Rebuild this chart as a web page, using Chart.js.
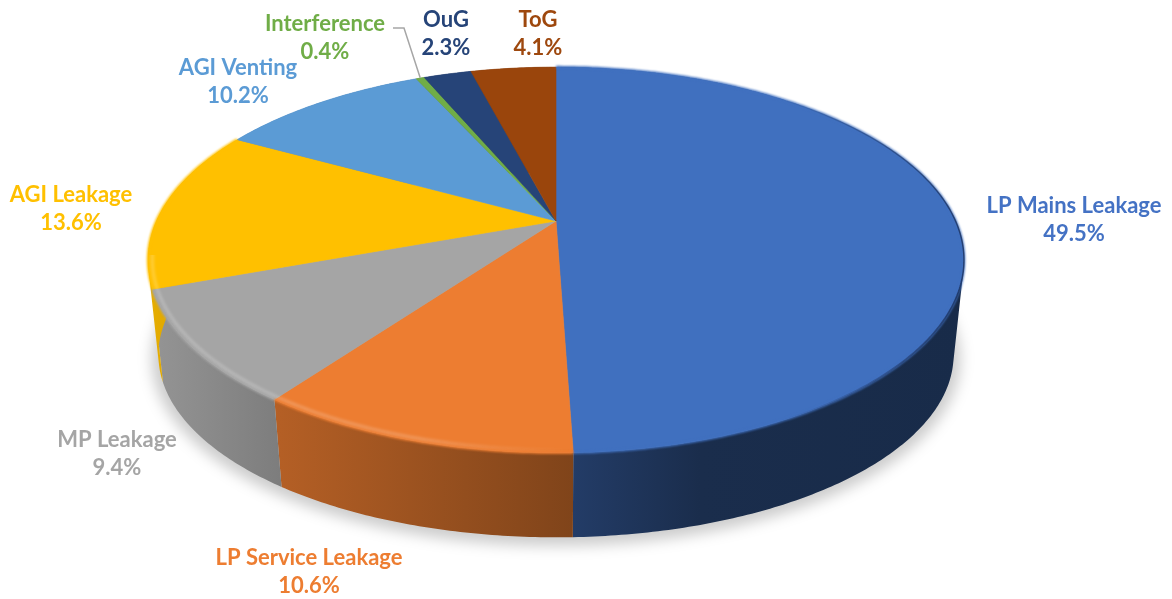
<!DOCTYPE html>
<html>
<head>
<meta charset="utf-8">
<style>
  body { margin: 0; background: #fff; }
</style>
</head>
<body>
<canvas id="leakChart" width="1172" height="599"></canvas>
<script src="https://cdn.jsdelivr.net/npm/chart.js@4"></script>
<script>
const categories = ['LP Mains Leakage', 'LP Service Leakage', 'MP Leakage', 'AGI Leakage', 'AGI Venting', 'Interference', 'OuG', 'ToG'];
const shares = [49.5, 10.6, 9.4, 13.6, 10.2, 0.4, 2.3, 4.1];
const sliceColors = ['#4070BF', '#ED7D31', '#A5A5A5', '#FFC000', '#5B9BD5', '#70AD47', '#264478', '#9A450C'];
const labelColors = ['#4472C4', '#ED7D31', '#A5A5A5', '#FFC000', '#5B9BD5', '#70AD47', '#264478', '#9E480E'];

// where each two line label is centred
const labelSpots = [[1074, 206], [309, 558], [117, 440], [71, 195], [238, 68], [325, 24], [446, 20], [538, 20]];

// flat disc -> tilted disc with a bit of perspective
const TILT = 0.202;
const TOP = { sx: 1.808, sy: 0.837, dy: 0 };
const BOTTOM = { sx: 1.762, sy: 0.792, dy: 97 };

function project(arc, disc, angle, rho) {
  const u = Math.cos(angle) * rho;
  const v = Math.sin(angle) * rho;
  const w = 1 / (1 - TILT * v);
  return [
    arc.x + arc.outerRadius * disc.sx * u * w,
    arc.y + disc.dy + arc.outerRadius * disc.sy * v * w
  ];
}

function arcPoints(arc, disc, rho) {
  const pts = [];
  const n = Math.max(2, Math.ceil((arc.endAngle - arc.startAngle) * 90));
  for (let i = 0; i <= n; i++) {
    pts.push(project(arc, disc, arc.startAngle + (arc.endAngle - arc.startAngle) * i / n, rho));
  }
  return pts;
}

function tracePoints(ctx, pts) {
  pts.forEach((p, i) => (i ? ctx.lineTo(p[0], p[1]) : ctx.moveTo(p[0], p[1])));
}

function shade(hex, f) {
  const n = parseInt(hex.slice(1), 16);
  return `rgb(${(n >> 16) * f},${((n >> 8) & 255) * f},${(n & 255) * f})`;
}

// the side gets darker going right, then stays flat
const wallStops = [[150, 0.9], [280, 0.76], [573, 0.54], [700, 0.4], [965, 0.38]];

function wallGradient(ctx, color) {
  const g = ctx.createLinearGradient(0, 0, 1172, 0);
  wallStops.forEach(s => g.addColorStop(s[0] / 1172, shade(color, s[1])));
  return g;
}

// the rims cross near the widest point, so the wall is built from small quads
// all wound the same way, otherwise the corner gets cut out of the fill
function traceWall(ctx, arc) {
  const up = arcPoints(arc, TOP, 1);
  const low = arcPoints(arc, BOTTOM, 1);
  for (let i = 0; i < up.length - 1; i++) {
    const quad = [up[i], up[i + 1], low[i + 1], low[i]];
    let area = 0;
    quad.forEach((p, j) => {
      const q = quad[(j + 1) % 4];
      area += p[0] * q[1] - q[0] * p[1];
    });
    if (area < 0) quad.reverse();
    tracePoints(ctx, quad);
    ctx.closePath();
  }
}

function strokeRim(ctx, arc, rho) {
  ctx.beginPath();
  tracePoints(ctx, arcPoints(arc, TOP, rho));
  ctx.stroke();
}

const pie3d = {
  id: 'pie3d',
  beforeDatasetsDraw(chart) {
    const ctx = chart.ctx;
    const arcs = chart.getDatasetMeta(0).data;

    // soft shadow under the pie
    const shadowDisc = { sx: BOTTOM.sx + 0.03, sy: BOTTOM.sy + 0.02, dy: BOTTOM.dy + 3 };
    let outline = [];
    arcs.forEach(arc => { outline = outline.concat(arcPoints(arc, shadowDisc, 1)); });
    ctx.save();
    ctx.filter = 'blur(7px)';
    ctx.fillStyle = 'rgba(0,0,0,0.2)';
    ctx.beginPath();
    tracePoints(ctx, outline);
    ctx.closePath();
    ctx.fill();
    ctx.restore();

    // side walls
    arcs.forEach((arc, i) => {
      ctx.beginPath();
      traceWall(ctx, arc);
      ctx.fillStyle = wallGradient(ctx, sliceColors[i]);
      ctx.fill();
    });

    // top faces
    arcs.forEach((arc, i) => {
      ctx.beginPath();
      tracePoints(ctx, [[arc.x, arc.y]].concat(arcPoints(arc, TOP, 1)));
      ctx.closePath();
      ctx.fillStyle = sliceColors[i];
      ctx.strokeStyle = sliceColors[i];
      ctx.lineWidth = 0.6;
      ctx.fill();
      ctx.stroke();
    });

    // soft edge where the top rolls over into the wall
    ctx.save();
    ctx.filter = 'blur(1.2px)';
    ctx.lineWidth = 2.5;
    arcs.forEach((arc, i) => {
      if (i > 3) return;
      ctx.strokeStyle = sliceColors[i];
      strokeRim(ctx, arc, 1);
    });
    ctx.restore();

    // highlight just inside the rim, left and front only
    const glow = ctx.createLinearGradient(0, 0, 1172, 0);
    glow.addColorStop(150 / 1172, 'rgba(255,255,255,0.24)');
    glow.addColorStop(420 / 1172, 'rgba(255,255,255,0.22)');
    glow.addColorStop(570 / 1172, 'rgba(255,255,255,0)');
    ctx.save();
    ctx.beginPath();
    ctx.rect(0, 255, 1172, 344);
    ctx.clip();
    ctx.filter = 'blur(1.5px)';
    ctx.strokeStyle = glow;
    ctx.lineWidth = 3;
    [1, 2, 3].forEach(i => strokeRim(ctx, arcs[i], 0.99));
    ctx.restore();

    // thin dark edge on the far right of the big slice
    const edge = ctx.createLinearGradient(0, 0, 1172, 0);
    edge.addColorStop(780 / 1172, 'rgba(15,30,65,0)');
    edge.addColorStop(960 / 1172, 'rgba(15,30,65,0.6)');
    ctx.save();
    ctx.filter = 'blur(0.6px)';
    ctx.strokeStyle = edge;
    ctx.lineWidth = 1.5;
    strokeRim(ctx, arcs[0], 1);
    ctx.restore();
    return false;
  },
  afterDraw(chart) {
    const ctx = chart.ctx;
    const arcs = chart.getDatasetMeta(0).data;

    // leader line for the thin slice
    const thin = arcs[5];
    const tip = project(thin, TOP, (thin.startAngle + thin.endAngle) / 2, 1);
    ctx.strokeStyle = '#A6A6A6';
    ctx.lineWidth = 1.5;
    ctx.beginPath();
    ctx.moveTo(393, 28);
    ctx.lineTo(404, 28);
    ctx.lineTo(tip[0], tip[1]);
    ctx.stroke();

    ctx.font = 'bold 22px Lato';
    ctx.textAlign = 'center';
    ctx.textBaseline = 'middle';
    categories.forEach((name, i) => {
      ctx.fillStyle = labelColors[i];
      ctx.fillText(name, labelSpots[i][0], labelSpots[i][1]);
      ctx.fillText(shares[i].toFixed(1) + '%', labelSpots[i][0], labelSpots[i][1] + 28);
    });
  }
};

const leakChart = new Chart(document.getElementById('leakChart'), {
  type: 'pie',
  data: {
    labels: categories,
    datasets: [{
      data: shares,
      backgroundColor: sliceColors,
      borderWidth: 0
    }]
  },
  plugins: [pie3d],
  options: {
    responsive: false,
    animation: false,
    layout: { padding: { right: 60, bottom: 157 } },
    plugins: {
      legend: { display: false },
      tooltip: { enabled: false },
      title: { display: false }
    }
  }
});
</script>
</body>
</html>
